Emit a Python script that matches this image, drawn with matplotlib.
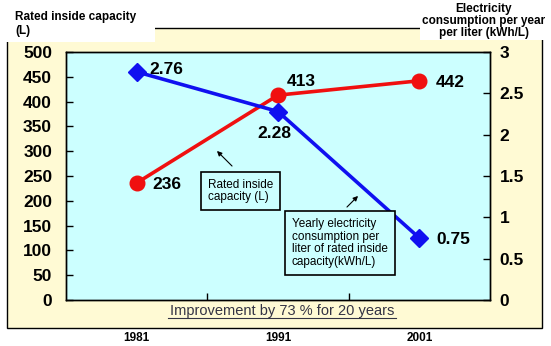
import matplotlib
matplotlib.use("Agg")
import matplotlib.pyplot as plt
from matplotlib.patches import Rectangle, FancyArrowPatch
from matplotlib.lines import Line2D

years = ["1981", "1991", "2001"]
capacity = [236, 413, 442]
consumption = [2.76, 2.28, 0.75]
left_ticks = [0, 50, 100, 150, 200, 250, 300, 350, 400, 450, 500]
right_ticks = [0, 0.5, 1, 1.5, 2, 2.5, 3]
right_labels = ["0", "0.5", "1", "1.5", "2", "2.5", "3"]

W, H = 551, 346
plt.rcParams['font.family'] = ['Liberation Sans', 'DejaVu Sans']
fig = plt.figure(figsize=(W/100, H/100), dpi=100)
fig.patch.set_facecolor('white')

def fx(x): return x / W
def fy(y): return 1 - y / H

# cream background box
fig.patches.append(Rectangle((fx(7), fy(328)), fx(542) - fx(7), fy(28) - fy(328),
                             transform=fig.transFigure, facecolor='#FFFAD4',
                             edgecolor='black', linewidth=1.0, zorder=-3))
# white title patches
fig.patches.append(Rectangle((fx(4), fy(42)), fx(155) - fx(4), fy(8) - fy(42),
                             transform=fig.transFigure, facecolor='white',
                             edgecolor='none', zorder=-2))
fig.patches.append(Rectangle((fx(420), fy(40)), fx(551) - fx(420), fy(0) - fy(40),
                             transform=fig.transFigure, facecolor='white',
                             edgecolor='none', zorder=-2))

ax = fig.add_axes([fx(66), fy(300), fx(490) - fx(66), fy(52) - fy(300)])
ax.set_facecolor('#CCFFFF')
ax2 = ax.twinx()

x = list(range(len(years)))
ax.plot(x, capacity, color='#F01010', lw=2.6, marker='o', ms=10.5, zorder=3)
ax2.plot(x, consumption, color='#1010F0', lw=2.6, marker='D', ms=9, zorder=3)

ax.set_xlim(-0.5, 2.5)
ax.set_ylim(0, 500)
ax2.set_ylim(0, 3)
ax.set_xticks([0.5, 1.5])
ax.set_xticklabels([])
ax.tick_params(axis='x', direction='in', length=5, width=1)
ax.set_yticks(left_ticks)
ax.set_yticklabels([str(t) for t in left_ticks], fontsize=12.5, fontweight='bold')
ax.tick_params(axis='y', direction='in', length=5, width=1, pad=10)
ax2.set_yticks(right_ticks)
ax2.set_yticklabels(right_labels, fontsize=12.5, fontweight='bold')
ax2.tick_params(axis='y', direction='in', length=5, width=1, pad=7)
for a in (ax, ax2):
    for s in a.spines.values():
        s.set_linewidth(1.0)

# data labels
lab = dict(fontsize=12.5, fontweight='bold', va='center')
ax.annotate(f"{capacity[0]}", (x[0], capacity[0]), xytext=(11, -1), textcoords='offset points', ha='left', **lab)
ax.annotate(f"{capacity[1]}", (x[1], capacity[1]), xytext=(6, 10), textcoords='offset points', ha='left', **lab)
ax.annotate(f"{capacity[2]}", (x[2], capacity[2]), xytext=(12, -1), textcoords='offset points', ha='left', **lab)
ax2.annotate(f"{consumption[0]:.2f}", (x[0], consumption[0]), xytext=(9, 2), textcoords='offset points', ha='left', **lab)
ax2.annotate(f"{consumption[1]:.2f}", (x[1], consumption[1]), xytext=(-15, -16), textcoords='offset points', ha='left', **lab)
ax2.annotate(f"{consumption[2]:.2f}", (x[2], consumption[2]), xytext=(12, -1), textcoords='offset points', ha='left', **lab)

# annotation boxes
box = dict(boxstyle='square,pad=0.6', facecolor='#CCFFFF', edgecolor='black', linewidth=1.2)
fig.text(fx(208), fy(191), "Rated inside\ncapacity (L)", fontsize=8.5, ha='left', va='center',
         bbox=box, linespacing=1.05, zorder=5)
fig.text(fx(292), fy(243), "Yearly electricity\nconsumption per\nliter of rated inside\ncapacity(kWh/L)",
         fontsize=8.5, ha='left', va='center', bbox=box, linespacing=1.05, zorder=5)
fig.add_artist(FancyArrowPatch((fx(234), fy(168)), (fx(215), fy(149)),
               transform=fig.transFigure, arrowstyle='-|>', mutation_scale=7, color='black', lw=0.8))
fig.add_artist(FancyArrowPatch((fx(345), fy(209)), (fx(360), fy(194)),
               transform=fig.transFigure, arrowstyle='-|>', mutation_scale=7, color='black', lw=0.8))

# titles
fig.text(fx(15), fy(17), "Rated inside capacity", fontsize=8.5, fontweight='bold', ha='left', va='center')
fig.text(fx(15), fy(31), "(L)", fontsize=8.5, fontweight='bold', ha='left', va='center')
fig.text(fx(484), fy(21), "Electricity\nconsumption per year\nper liter (kWh/L)", fontsize=8.5,
         fontweight='bold', ha='center', va='center', linespacing=0.95)

# improvement text
fig.text(fx(282), fy(311), "Improvement by 73 % for 20 years", fontsize=10.5, color='#333344',
         ha='center', va='center')
fig.add_artist(Line2D([fx(168), fx(396)], [fy(318), fy(318)], transform=fig.transFigure,
                      color='#333344', lw=0.8))

# year labels
for xi, yr in zip(x, years):
    px = ax.transData.transform((xi, 0))[0]
    fig.text(px / fig.dpi / fig.get_figwidth(), fy(338), yr, fontsize=8.5, fontweight='bold',
             ha='center', va='center')

fig.savefig("out.png", dpi=100, facecolor='white')
